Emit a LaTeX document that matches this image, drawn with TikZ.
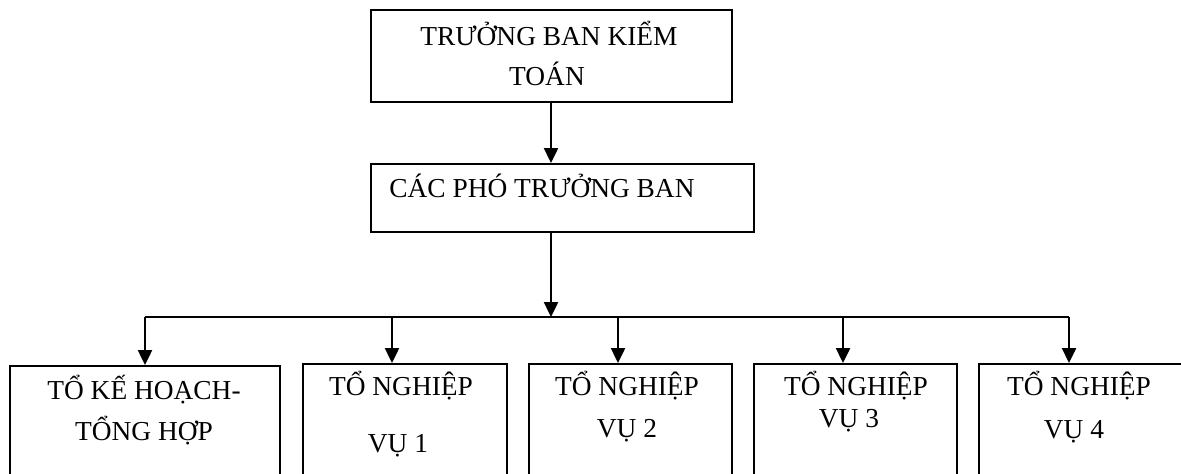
\documentclass[tikz,border=0pt]{standalone}
\usepackage{fontspec}
\setmainfont{Liberation Serif}
\usetikzlibrary{arrows.meta}
\tikzset{
  box/.style={draw=black, line width=1pt, rectangle, inner sep=0pt, anchor=north west},
  lbl/.style={inner sep=0pt, anchor=base, font=\fontsize{13.7}{16}\selectfont},
  conn/.style={draw=black, line width=1.2pt},
  arr/.style={conn, -{Triangle[length=7.5pt,width=7pt]}}
}
\begin{document}
\begin{tikzpicture}[x=0.5pt,y=-0.5pt]
\useasboundingbox (0,0) rectangle (1181,473);
\fill[white] (0,0) rectangle (1181,473);
\clip (0,0) rectangle (1181,473);
% boxes
\node[box, minimum width=180.5pt, minimum height=46pt] (top) at (370,9) {};
\node[box, minimum width=191.5pt, minimum height=34pt] (mid) at (370,163) {};
\node[box, minimum width=135pt, minimum height=70pt] (t1) at (9,365) {};
\node[box, minimum width=102pt, minimum height=70pt] (t2) at (302,363) {};
\node[box, minimum width=101.5pt, minimum height=70pt] (t3) at (528,363) {};
\node[box, minimum width=101.5pt, minimum height=70pt] (t4) at (753,363) {};
\node[box, minimum width=105pt, minimum height=70pt] (t5) at (978,363) {};
% texts
\node[lbl] (top1) at (549,45) {TRƯỞNG BAN KIỂM};
\node[lbl] (top2) at (547,85) {TOÁN};
\node[lbl, anchor=base west] (midtxt) at (389,197) {CÁC PHÓ TRƯỞNG BAN};
\node[lbl] (a1) at (144,399) {TỔ KẾ HOẠCH-};
\node[lbl] (a2) at (144,440) {TỔNG HỢP};
\node[lbl] (b1t) at (401,395) {TỔ NGHIỆP};
\node[lbl] (b2t) at (398,452) {VỤ 1};
\node[lbl] (c1t) at (627,395) {TỔ NGHIỆP};
\node[lbl] (c2t) at (627,437) {VỤ 2};
\node[lbl] (d1t) at (856,395) {TỔ NGHIỆP};
\node[lbl] (d2t) at (849,427) {VỤ 3};
\node[lbl] (e1t) at (1079,395) {TỔ NGHIỆP};
\node[lbl] (e2t) at (1074,438) {VỤ 4};
% connectors
\coordinate (bus) at (551,317);
\coordinate (k1) at (145,317);
\coordinate (k2) at (392,317);
\coordinate (k3) at (618,317);
\coordinate (k4) at (843,317);
\coordinate (k5) at (1069,317);
\draw[arr] (top.south -| bus) -- (mid.north -| bus);
\draw[arr] (mid.south -| bus) -- (bus);
\draw[conn] (k1) -- (k5);
\draw[arr] (k1) -- (k1 |- t1.north);
\draw[arr] (k2) -- (k2 |- t2.north);
\draw[arr] (k3) -- (k3 |- t3.north);
\draw[arr] (k4) -- (k4 |- t4.north);
\draw[arr] (k5) -- (k5 |- t5.north);
\end{tikzpicture}
\end{document}
